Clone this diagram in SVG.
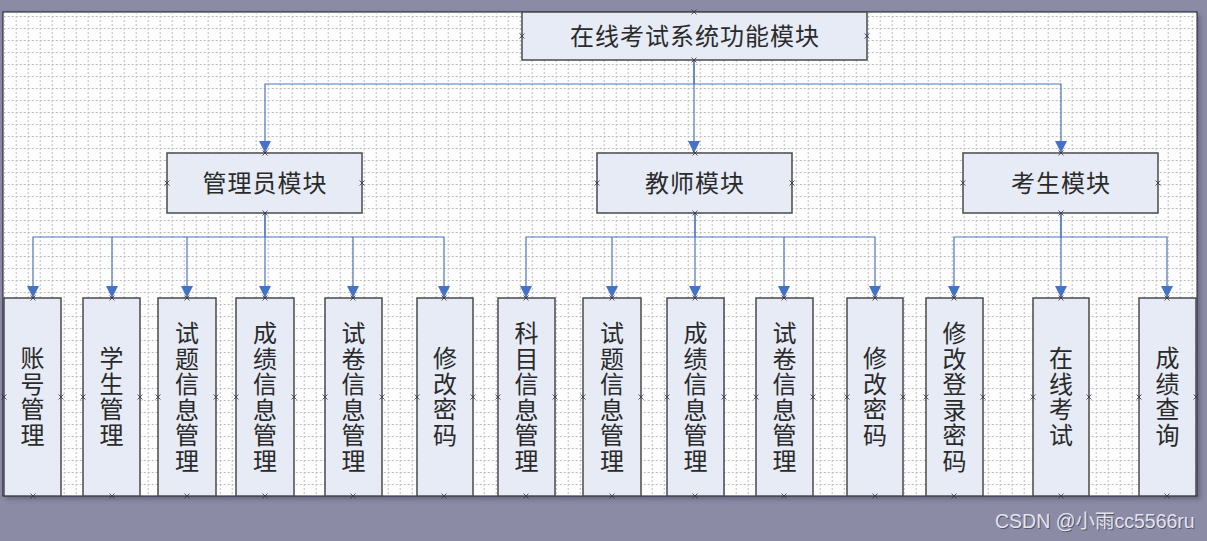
<svg xmlns="http://www.w3.org/2000/svg" width="1207" height="541" viewBox="0 0 1207 541">
<style>
.box{fill:#e6ebf6;stroke:#4a4a4a;stroke-width:1.5}
.t{font-family:"Noto Sans CJK SC","Liberation Sans",sans-serif;font-size:24px;fill:#2a2a2a;text-anchor:middle;letter-spacing:1px}
.v{font-family:"Noto Sans CJK SC","Liberation Sans",sans-serif;font-size:24px;fill:#2a2a2a;text-anchor:middle}
.c{fill:none;stroke:#4f74c0;stroke-width:1.2}
.x{fill:none;stroke:#334;stroke-width:0.8}
.wm{font-family:"Liberation Sans","Noto Sans CJK SC",sans-serif;font-size:19.5px}
</style>
<defs>
<pattern id="grid" x="3.7" y="4" width="12" height="12" patternUnits="userSpaceOnUse">
<path d="M0,0.5 H12 M0.5,0 V12" fill="none" stroke="#bcbcbc" stroke-width="1" stroke-dasharray="2,2"/>
</pattern>
<marker id="ah" viewBox="0 0 12 12" refX="12" refY="6" markerWidth="13" markerHeight="12" markerUnits="userSpaceOnUse" orient="auto">
<path d="M0,0 L12,6 L0,12 Z" fill="#4472c4"/>
</marker>
<path id="xm" d="M-2.5,-2.5 L2.5,2.5 M-2.5,2.5 L2.5,-2.5"/>
<filter id="sh" x="-5%" y="-5%" width="110%" height="110%"><feDropShadow dx="3" dy="3" stdDeviation="2" flood-color="#555577" flood-opacity="0.6"/></filter>
</defs>
<rect x="0" y="0" width="1207" height="541" fill="#8b8ba6"/>
<rect x="3" y="12" width="1194" height="484" fill="#fdfdfd" stroke="#111" stroke-width="1" filter="url(#sh)"/>
<rect x="3.5" y="12.5" width="1193" height="483" fill="url(#grid)"/>

<g id="connectors">
<path class="c" d="M694,60 V84 H265 V153" marker-end="url(#ah)"/>
<path class="c" d="M694,60 V153" marker-end="url(#ah)"/>
<path class="c" d="M694,84 H1061 V153" marker-end="url(#ah)"/>

<path class="c" d="M265,213 V237 H33 V298" marker-end="url(#ah)"/>
<path class="c" d="M112,237 V298" marker-end="url(#ah)"/>
<path class="c" d="M187,237 V298" marker-end="url(#ah)"/>
<path class="c" d="M265,213 V298" marker-end="url(#ah)"/>
<path class="c" d="M265,237 H444 V298" marker-end="url(#ah)"/>
<path class="c" d="M353,237 V298" marker-end="url(#ah)"/>

<path class="c" d="M695,213 V237 H526 V298" marker-end="url(#ah)"/>
<path class="c" d="M612,237 V298" marker-end="url(#ah)"/>
<path class="c" d="M695,213 V298" marker-end="url(#ah)"/>
<path class="c" d="M695,237 H875 V298" marker-end="url(#ah)"/>
<path class="c" d="M784,237 V298" marker-end="url(#ah)"/>

<path class="c" d="M1061,213 V237 H954 V298" marker-end="url(#ah)"/>
<path class="c" d="M1061,213 V298" marker-end="url(#ah)"/>
<path class="c" d="M1061,237 H1167 V298" marker-end="url(#ah)"/>
</g>

<g id="root">
<rect class="box" x="522" y="12" width="345" height="48"/>
<text class="t" x="695" y="45">在线考试系统功能模块</text>
<g class="x"><use href="#xm" x="694" y="12"/><use href="#xm" x="694" y="60"/><use href="#xm" x="522" y="36"/><use href="#xm" x="867" y="36"/></g>
</g>

<g id="admin">
<rect class="box" x="167" y="153" width="195" height="60"/>
<text class="t" x="265" y="192">管理员模块</text>
<g class="x"><use href="#xm" x="265" y="153"/><use href="#xm" x="265" y="213"/><use href="#xm" x="167" y="183"/><use href="#xm" x="362" y="183"/></g>
</g>
<g id="teacher">
<rect class="box" x="597" y="153" width="195" height="60"/>
<text class="t" x="695" y="192">教师模块</text>
<g class="x"><use href="#xm" x="695" y="153"/><use href="#xm" x="695" y="213"/><use href="#xm" x="597" y="183"/><use href="#xm" x="792" y="183"/></g>
</g>
<g id="student">
<rect class="box" x="963" y="153" width="195" height="60"/>
<text class="t" x="1061" y="192">考生模块</text>
<g class="x"><use href="#xm" x="1061" y="153"/><use href="#xm" x="1061" y="213"/><use href="#xm" x="963" y="183"/><use href="#xm" x="1158" y="183"/></g>
</g>

<g id="leaf1"><rect class="box" x="4" y="298" width="57" height="198"/>
<text class="v"><tspan x="32.5" y="367">账</tspan><tspan x="32.5" y="392.5">号</tspan><tspan x="32.5" y="418">管</tspan><tspan x="32.5" y="443.5">理</tspan></text>
<g class="x"><use href="#xm" x="33" y="298"/><use href="#xm" x="33" y="496"/><use href="#xm" x="4" y="397"/><use href="#xm" x="61" y="397"/></g></g>

<g id="leaf2"><rect class="box" x="83" y="298" width="57" height="198"/>
<text class="v"><tspan x="111.5" y="367">学</tspan><tspan x="111.5" y="392.5">生</tspan><tspan x="111.5" y="418">管</tspan><tspan x="111.5" y="443.5">理</tspan></text>
<g class="x"><use href="#xm" x="112" y="298"/><use href="#xm" x="112" y="496"/><use href="#xm" x="83" y="397"/><use href="#xm" x="140" y="397"/></g></g>

<g id="leaf3"><rect class="box" x="158" y="298" width="58" height="198"/>
<text class="v"><tspan x="187" y="342">试</tspan><tspan x="187" y="367.5">题</tspan><tspan x="187" y="393">信</tspan><tspan x="187" y="418.5">息</tspan><tspan x="187" y="444">管</tspan><tspan x="187" y="469.5">理</tspan></text>
<g class="x"><use href="#xm" x="187" y="298"/><use href="#xm" x="187" y="496"/><use href="#xm" x="158" y="397"/><use href="#xm" x="216" y="397"/></g></g>

<g id="leaf4"><rect class="box" x="236" y="298" width="58" height="198"/>
<text class="v"><tspan x="265" y="342">成</tspan><tspan x="265" y="367.5">绩</tspan><tspan x="265" y="393">信</tspan><tspan x="265" y="418.5">息</tspan><tspan x="265" y="444">管</tspan><tspan x="265" y="469.5">理</tspan></text>
<g class="x"><use href="#xm" x="265" y="298"/><use href="#xm" x="265" y="496"/><use href="#xm" x="236" y="397"/><use href="#xm" x="294" y="397"/></g></g>

<g id="leaf5"><rect class="box" x="325" y="298" width="57" height="198"/>
<text class="v"><tspan x="353.5" y="342">试</tspan><tspan x="353.5" y="367.5">卷</tspan><tspan x="353.5" y="393">信</tspan><tspan x="353.5" y="418.5">息</tspan><tspan x="353.5" y="444">管</tspan><tspan x="353.5" y="469.5">理</tspan></text>
<g class="x"><use href="#xm" x="353" y="298"/><use href="#xm" x="353" y="496"/><use href="#xm" x="325" y="397"/><use href="#xm" x="382" y="397"/></g></g>

<g id="leaf6"><rect class="box" x="417" y="298" width="56" height="198"/>
<text class="v"><tspan x="445" y="367">修</tspan><tspan x="445" y="392.5">改</tspan><tspan x="445" y="418">密</tspan><tspan x="445" y="443.5">码</tspan></text>
<g class="x"><use href="#xm" x="444" y="298"/><use href="#xm" x="444" y="496"/><use href="#xm" x="417" y="397"/><use href="#xm" x="473" y="397"/></g></g>

<g id="leaf7"><rect class="box" x="498" y="298" width="57" height="198"/>
<text class="v"><tspan x="526.5" y="342">科</tspan><tspan x="526.5" y="367.5">目</tspan><tspan x="526.5" y="393">信</tspan><tspan x="526.5" y="418.5">息</tspan><tspan x="526.5" y="444">管</tspan><tspan x="526.5" y="469.5">理</tspan></text>
<g class="x"><use href="#xm" x="526" y="298"/><use href="#xm" x="526" y="496"/><use href="#xm" x="498" y="397"/><use href="#xm" x="555" y="397"/></g></g>

<g id="leaf8"><rect class="box" x="583" y="298" width="58" height="198"/>
<text class="v"><tspan x="612" y="342">试</tspan><tspan x="612" y="367.5">题</tspan><tspan x="612" y="393">信</tspan><tspan x="612" y="418.5">息</tspan><tspan x="612" y="444">管</tspan><tspan x="612" y="469.5">理</tspan></text>
<g class="x"><use href="#xm" x="612" y="298"/><use href="#xm" x="612" y="496"/><use href="#xm" x="583" y="397"/><use href="#xm" x="641" y="397"/></g></g>

<g id="leaf9"><rect class="box" x="667" y="298" width="57" height="198"/>
<text class="v"><tspan x="695.5" y="342">成</tspan><tspan x="695.5" y="367.5">绩</tspan><tspan x="695.5" y="393">信</tspan><tspan x="695.5" y="418.5">息</tspan><tspan x="695.5" y="444">管</tspan><tspan x="695.5" y="469.5">理</tspan></text>
<g class="x"><use href="#xm" x="695" y="298"/><use href="#xm" x="695" y="496"/><use href="#xm" x="667" y="397"/><use href="#xm" x="724" y="397"/></g></g>

<g id="leaf10"><rect class="box" x="756" y="298" width="57" height="198"/>
<text class="v"><tspan x="784.5" y="342">试</tspan><tspan x="784.5" y="367.5">卷</tspan><tspan x="784.5" y="393">信</tspan><tspan x="784.5" y="418.5">息</tspan><tspan x="784.5" y="444">管</tspan><tspan x="784.5" y="469.5">理</tspan></text>
<g class="x"><use href="#xm" x="784" y="298"/><use href="#xm" x="784" y="496"/><use href="#xm" x="756" y="397"/><use href="#xm" x="813" y="397"/></g></g>

<g id="leaf11"><rect class="box" x="847" y="298" width="56" height="198"/>
<text class="v"><tspan x="875" y="367">修</tspan><tspan x="875" y="392.5">改</tspan><tspan x="875" y="418">密</tspan><tspan x="875" y="443.5">码</tspan></text>
<g class="x"><use href="#xm" x="875" y="298"/><use href="#xm" x="875" y="496"/><use href="#xm" x="847" y="397"/><use href="#xm" x="903" y="397"/></g></g>

<g id="leaf12"><rect class="box" x="926" y="298" width="57" height="198"/>
<text class="v"><tspan x="954.5" y="342">修</tspan><tspan x="954.5" y="367.5">改</tspan><tspan x="954.5" y="393">登</tspan><tspan x="954.5" y="418.5">录</tspan><tspan x="954.5" y="444">密</tspan><tspan x="954.5" y="469.5">码</tspan></text>
<g class="x"><use href="#xm" x="954" y="298"/><use href="#xm" x="954" y="496"/><use href="#xm" x="926" y="397"/><use href="#xm" x="983" y="397"/></g></g>

<g id="leaf13"><rect class="box" x="1033" y="298" width="56" height="198"/>
<text class="v"><tspan x="1061" y="367">在</tspan><tspan x="1061" y="392.5">线</tspan><tspan x="1061" y="418">考</tspan><tspan x="1061" y="443.5">试</tspan></text>
<g class="x"><use href="#xm" x="1061" y="298"/><use href="#xm" x="1061" y="496"/><use href="#xm" x="1033" y="397"/><use href="#xm" x="1089" y="397"/></g></g>

<g id="leaf14"><rect class="box" x="1139" y="298" width="57" height="198"/>
<text class="v"><tspan x="1167.5" y="367">成</tspan><tspan x="1167.5" y="392.5">绩</tspan><tspan x="1167.5" y="418">查</tspan><tspan x="1167.5" y="443.5">询</tspan></text>
<g class="x"><use href="#xm" x="1167" y="298"/><use href="#xm" x="1167" y="496"/><use href="#xm" x="1139" y="397"/><use href="#xm" x="1196" y="397"/></g></g>

<text class="wm" x="996" y="529" fill="#55556e">CSDN @小雨cc5566ru</text>
<text class="wm" x="995" y="528" fill="#e4e4ec">CSDN @小雨cc5566ru</text>
</svg>
